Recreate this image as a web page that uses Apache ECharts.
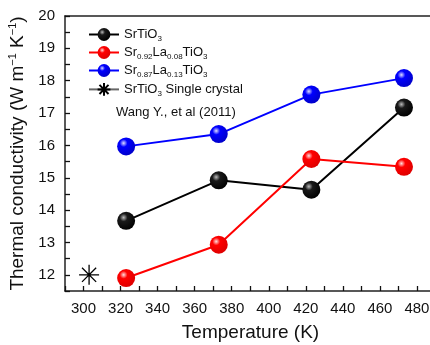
<!DOCTYPE html>
<html>
<head>
<meta charset="utf-8">
<script src="https://cdn.jsdelivr.net/npm/echarts@6/dist/echarts.min.js"></script>
<style>
  html, body { margin: 0; padding: 0; background: #fff; }
  #chart { width: 430px; height: 345px; }
</style>
</head>
<body>
<div id="chart"></div>
<script>
// values
const temps = [323, 373, 423, 473]
const srTiO3 = [13.67, 14.92, 14.63, 17.17]
const srLa008 = [11.9, 12.93, 15.58, 15.34]
const srLa013 = [15.97, 16.35, 17.57, 18.08]
const singleCrystal = [[303, 12.0]]

const xLabels = [300, 320, 340, 360, 380, 400, 420, 440, 460, 480]
const yLabels = [12, 13, 14, 15, 16, 17, 18, 19, 20]

const names = ['SrTiO3', 'Sr0.92La0.08TiO3', 'Sr0.87La0.13TiO3', 'SrTiO3 Single crystal']
const richNames = {
  'SrTiO3': '{n|SrTiO}{s|3}',
  'Sr0.92La0.08TiO3': '{n|Sr}{s|0.92}{n|La}{s|0.08}{n|TiO}{s|3}',
  'Sr0.87La0.13TiO3': '{n|Sr}{s|0.87}{n|La}{s|0.13}{n|TiO}{s|3}',
  'SrTiO3 Single crystal': '{n|SrTiO}{s|3}{n| Single crystal}'
}

const FONT = 'Liberation Sans, Arial, sans-serif'
const AX = '#222'

function ball(base, dark, light) {
  return {
    type: 'radial', x: 0.36, y: 0.32, r: 0.72,
    colorStops: [
      {offset: 0, color: light},
      {offset: 0.3, color: base},
      {offset: 1, color: dark}
    ]
  }
}

function lineSeries(name, vals, lineColor, fill) {
  return {
    name: name,
    type: 'line',
    data: temps.map((t, i) => [t, vals[i]]),
    symbol: 'circle',
    symbolSize: 18,
    lineStyle: {color: lineColor, width: 2},
    itemStyle: {color: fill},
    z: 3
  }
}

const chart = echarts.init(document.getElementById('chart'))

chart.setOption({
  animation: false,
  textStyle: {fontFamily: FONT},
  grid: {left: 65, top: 16, height: 275, width: 389, outerBoundsMode: 'none'},
  legend: {
    orient: 'vertical',
    left: 83,
    top: 23,
    itemWidth: 30,
    itemHeight: 16,
    itemGap: 3,
    data: names,
    formatter: name => richNames[name],
    textStyle: {
      rich: {
        n: {fontSize: 13, color: '#111', fontFamily: FONT},
        s: {fontSize: 8, color: '#111', fontFamily: FONT, padding: [9, 0, 0, 0]}
      }
    }
  },
  graphic: [{
    type: 'text',
    left: 116,
    top: 106,
    style: {text: 'Wang Y., et al (2011)', fontSize: 13, fill: '#111', fontFamily: FONT}
  }],
  xAxis: [
    {
      type: 'value', min: 290, max: 500, interval: 10,
      position: 'bottom',
      name: 'Temperature (K)',
      nameLocation: 'middle',
      nameGap: 32,
      nameTextStyle: {fontSize: 19, color: '#111', padding: [0, 18, 0, 0]},
      splitLine: {show: false},
      axisLine: {show: true, lineStyle: {color: AX, width: 1.5}},
      axisTick: {show: true, inside: true, length: 5, lineStyle: {color: '#111', width: 1.3}},
      axisLabel: {
        fontSize: 15, color: '#111', margin: 10,
        formatter: v => xLabels.includes(v) ? String(v) : ''
      }
    },
    {
      type: 'value', min: 290, max: 500,
      position: 'top',
      splitLine: {show: false},
      axisLine: {show: true, lineStyle: {color: AX, width: 1.5}},
      axisTick: {show: false},
      axisLabel: {show: false}
    }
  ],
  yAxis: [
    {
      type: 'value', min: 11.5, max: 20, interval: 0.5,
      position: 'left',
      name: '{n|Thermal conductivity (W m}{p|−1}{n| K}{p|−1}{n|)}',
      nameLocation: 'middle',
      nameGap: 33,
      nameTextStyle: {
        rich: {
          n: {fontSize: 19, color: '#111', fontFamily: FONT},
          p: {fontSize: 11, color: '#111', fontFamily: FONT, padding: [0, 0, 10, 0]}
        }
      },
      splitLine: {show: false},
      axisLine: {show: true, lineStyle: {color: AX, width: 1.5}},
      axisTick: {show: true, inside: true, length: 5, lineStyle: {color: '#111', width: 1.3}},
      axisLabel: {
        fontSize: 15, color: '#111', margin: 10,
        formatter: v => yLabels.includes(v) ? String(v) : ''
      }
    }
  ],
  series: [
    lineSeries(names[0], srTiO3, '#000', ball('#1a1a1a', '#000', '#bbb')),
    lineSeries(names[1], srLa008, '#f00', ball('#f00', '#d00', '#fdd')),
    lineSeries(names[2], srLa013, '#00f', ball('#00f', '#0000c8', '#ddf')),
    {
      name: names[3],
      type: 'line',
      data: singleCrystal,
      symbol: 'path://M0,-10L0,10M-10,0L10,0M-7.07,-7.07L7.07,7.07M-7.07,7.07L7.07,-7.07',
      symbolSize: 20,
      lineStyle: {color: '#666', width: 1},
      itemStyle: {color: 'rgba(0,0,0,0)', borderColor: '#000', borderWidth: 1.3},
      z: 3
    }
  ]
})
</script>
</body>
</html>
